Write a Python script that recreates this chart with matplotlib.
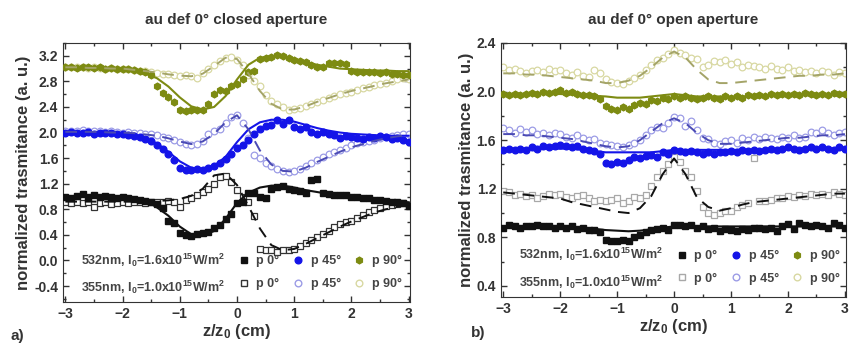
import numpy as np
import matplotlib
matplotlib.use("Agg")
import matplotlib.pyplot as plt
from matplotlib.lines import Line2D
from matplotlib.ticker import MultipleLocator, FormatStrFormatter

plt.rcParams["font.family"] = ["Liberation Sans", "DejaVu Sans"]
plt.rcParams["font.weight"] = "bold"
plt.rcParams["axes.labelweight"] = "bold"
plt.rcParams["mathtext.fontset"] = "custom"
plt.rcParams["mathtext.rm"] = "Liberation Sans:bold"
plt.rcParams["mathtext.default"] = "rm"

# scan positions (data every 0.1, fits every 0.2)
Z = np.round(np.linspace(-3, 3, 61), 1)
ZFIT = np.round(np.linspace(-3, 3, 31), 1)

# ---- panel a) closed aperture ----
A532_P0 = [1.00, 0.98, 1.01, 1.04, 1.00, 1.02, 0.99, 1.01, 1.00, 0.98, 0.99, 0.97, 0.96, 0.95, 0.93, 0.92,
           0.88, 0.82, 0.62, 0.58, 0.43, 0.40, 0.39, 0.42, 0.43, 0.45, 0.50, 0.55, 0.65, 0.72, 0.90, 0.91,
           1.05, 1.06, 1.00, 0.97, 1.12, 1.15, 1.16, 1.12, 1.10, 1.08, 1.06, 1.26, 1.28, 1.05, 1.04, 1.03,
           1.02, 1.03, 1.00, 0.99, 0.98, 0.97, 0.95, 0.94, 0.93, 0.92, 0.92, 0.90, 0.85]
A532_P0_FIT = [1.00, 1.00, 1.00, 0.99, 0.99, 0.98, 0.97, 0.94, 0.83, 0.70, 0.53, 0.41, 0.39, 0.46, 0.65, 0.90,
               1.06, 1.14, 1.17, 1.17, 1.14, 1.10, 1.07, 1.04, 1.02, 1.00, 0.98, 0.96, 0.94, 0.92, 0.91]
A355_P0 = [0.92, 0.90, 0.91, 0.90, 0.91, 0.83, 0.90, 0.91, 0.89, 0.90, 0.91, 0.90, 0.92, 0.91, 0.90, 0.92,
           0.91, 0.92, 0.93, 0.92, 0.83, 0.94, 0.97, 1.02, 1.07, 1.12, 1.20, 1.30, 1.32, 1.22, 1.10, 1.00,
           0.92, 0.70, 0.18, 0.17, 0.16, 0.14, 0.16, 0.17, 0.18, 0.22, 0.28, 0.32, 0.37, 0.42, 0.46, 0.52,
           0.57, 0.60, 0.62, 0.67, 0.71, 0.75, 0.79, 0.82, 0.85, 0.87, 0.88, 0.90, 0.86]
A355_P0_FIT = [0.92, 0.92, 0.92, 0.92, 0.92, 0.92, 0.92, 0.93, 0.93, 0.94, 0.96, 1.01, 1.12, 1.33, 1.36, 1.18,
               0.85, 0.50, 0.24, 0.16, 0.18, 0.26, 0.35, 0.44, 0.53, 0.61, 0.68, 0.75, 0.80, 0.84, 0.87]
A532_P45 = [2.00, 2.01, 1.99, 2.00, 2.01, 1.98, 2.00, 1.99, 2.00, 1.98, 1.97, 1.96, 1.95, 1.93, 1.90, 1.86,
            1.80, 1.74, 1.66, 1.57, 1.45, 1.42, 1.41, 1.43, 1.42, 1.44, 1.48, 1.52, 1.58, 1.66, 1.76, 1.80,
            1.88, 1.97, 2.05, 2.10, 2.12, 2.20, 2.14, 2.19, 2.08, 2.06, 2.09, 2.01, 1.98, 2.01, 1.97, 1.96,
            1.92, 1.95, 1.93, 1.91, 1.90, 1.93, 1.92, 1.94, 1.93, 1.90, 1.92, 1.88, 1.85]
A532_P45_FIT = [2.00, 2.00, 2.00, 2.00, 1.99, 1.98, 1.96, 1.91, 1.83, 1.70, 1.55, 1.45, 1.43, 1.48, 1.62, 1.85,
                2.05, 2.16, 2.20, 2.20, 2.17, 2.12, 2.07, 2.03, 2.00, 1.98, 1.97, 1.96, 1.95, 1.95, 1.95]
A355_P45 = [2.02, 2.03, 2.02, 2.04, 2.03, 2.02, 2.03, 2.01, 2.02, 2.01, 2.00, 2.01, 2.00, 1.99, 1.98, 1.97,
            1.96, 1.93, 1.92, 1.88, 1.85, 1.82, 1.80, 1.82, 1.87, 1.97, 2.02, 2.06, 2.15, 2.25, 2.28, 2.15,
            1.92, 1.65, 1.60, 1.52, 1.47, 1.43, 1.40, 1.38, 1.40, 1.43, 1.48, 1.53, 1.57, 1.62, 1.66, 1.70,
            1.73, 1.76, 1.80, 1.83, 1.85, 1.87, 1.89, 1.91, 1.93, 1.95, 1.96, 1.98, 1.97]
A355_P45_FIT = [2.01, 2.01, 2.01, 2.01, 2.00, 2.00, 1.99, 1.97, 1.95, 1.91, 1.86, 1.82, 1.86, 1.98, 2.16, 2.27,
                2.05, 1.72, 1.50, 1.40, 1.39, 1.45, 1.54, 1.62, 1.70, 1.77, 1.82, 1.87, 1.91, 1.94, 1.96]
A532_P90 = [3.02, 3.03, 3.01, 3.02, 3.02, 3.01, 3.02, 3.00, 3.01, 2.99, 3.00, 2.99, 2.98, 2.97, 2.95, 2.90,
            2.72, 2.62, 2.55, 2.48, 2.36, 2.34, 2.36, 2.35, 2.36, 2.45, 2.60, 2.66, 2.65, 2.72, 2.76, 2.83,
            2.95, 2.97, 3.15, 3.17, 3.18, 3.22, 3.19, 3.16, 3.14, 3.12, 3.10, 3.06, 3.03, 3.02, 3.08, 3.09,
            3.08, 3.07, 2.96, 2.95, 2.95, 2.94, 2.95, 2.93, 2.94, 2.92, 2.91, 2.90, 2.90]
A532_P90_FIT = [3.02, 3.02, 3.02, 3.01, 3.01, 3.00, 2.97, 2.92, 2.85, 2.72, 2.55, 2.41, 2.36, 2.40, 2.57, 2.83,
                3.06, 3.17, 3.19, 3.19, 3.15, 3.10, 3.06, 3.03, 3.00, 2.99, 2.98, 2.97, 2.97, 2.96, 2.96]
A355_P90 = [3.03, 3.02, 3.03, 3.02, 3.01, 3.02, 3.01, 3.00, 3.01, 3.00, 2.99, 3.00, 2.98, 2.97, 2.96, 2.95,
            2.93, 2.92, 2.91, 2.90, 2.89, 2.90, 2.88, 2.86, 2.93, 3.00, 3.06, 3.12, 3.16, 3.18, 3.14, 3.05,
            2.90, 2.80, 2.72, 2.58, 2.50, 2.44, 2.40, 2.36, 2.37, 2.38, 2.42, 2.45, 2.48, 2.51, 2.54, 2.57,
            2.60, 2.62, 2.64, 2.66, 2.69, 2.71, 2.74, 2.76, 2.78, 2.80, 2.83, 2.85, 2.84]
A355_P90_FIT = [3.02, 3.02, 3.01, 3.01, 3.00, 3.00, 2.98, 2.96, 2.94, 2.91, 2.89, 2.88, 2.92, 3.04, 3.17, 3.15,
                2.92, 2.65, 2.45, 2.36, 2.36, 2.41, 2.48, 2.54, 2.60, 2.65, 2.69, 2.73, 2.77, 2.80, 2.83]

# ---- panel b) open aperture ----
B532_P0 = [0.88, 0.90, 0.89, 0.88, 0.89, 0.89, 0.90, 0.89, 0.89, 0.88, 0.89, 0.88, 0.89, 0.87, 0.88, 0.86,
           0.86, 0.84, 0.78, 0.77, 0.77, 0.78, 0.77, 0.80, 0.82, 0.84, 0.86, 0.87, 0.88, 0.86, 0.90, 0.90,
           0.89, 0.90, 0.88, 0.89, 0.87, 0.88, 0.85, 0.87, 0.86, 0.85, 0.87, 0.86, 0.88, 0.88, 0.87, 0.88,
           0.85, 0.89, 0.91, 0.87, 0.92, 0.90, 0.89, 0.90, 0.89, 0.88, 0.92, 0.90, 0.88]
B532_P0_FIT = [0.89, 0.89, 0.89, 0.89, 0.89, 0.89, 0.88, 0.875, 0.87, 0.86, 0.855, 0.85, 0.855, 0.865, 0.88, 0.89,
               0.895, 0.89, 0.89, 0.89, 0.89, 0.89, 0.89, 0.89, 0.89, 0.89, 0.89, 0.89, 0.89, 0.89, 0.89]
B355_P0 = [1.18, 1.17, 1.15, 1.16, 1.14, 1.15, 1.12, 1.14, 1.16, 1.15, 1.16, 1.13, 1.12, 1.14, 1.15, 1.12,
           1.10, 1.11, 1.10, 1.11, 1.12, 1.08, 1.10, 1.13, 1.12, 1.15, 1.22, 1.30, 1.35, 1.40, 1.46, 1.42,
           1.35, 1.30, 1.18, 1.05, 1.00, 0.98, 1.00, 1.02, 1.02, 1.05, 1.07, 1.08, 1.45, 1.10, 1.10, 1.11,
           1.12, 1.12, 1.14, 1.13, 1.15, 1.14, 1.16, 1.15, 1.16, 1.15, 1.17, 1.16, 1.15]
B355_P0_FIT = [1.17, 1.16, 1.15, 1.14, 1.13, 1.12, 1.09, 1.07, 1.05, 1.03, 1.01, 1.00, 1.04, 1.14, 1.32, 1.45,
               1.32, 1.13, 1.05, 1.02, 1.04, 1.07, 1.09, 1.10, 1.11, 1.12, 1.13, 1.14, 1.15, 1.16, 1.16]
B532_P45 = [1.52, 1.53, 1.52, 1.53, 1.52, 1.54, 1.53, 1.55, 1.54, 1.55, 1.56, 1.55, 1.54, 1.55, 1.53, 1.52,
            1.51, 1.49, 1.41, 1.40, 1.42, 1.41, 1.44, 1.46, 1.45, 1.47, 1.48, 1.46, 1.50, 1.49, 1.52, 1.51,
            1.50, 1.51, 1.50, 1.49, 1.50, 1.49, 1.50, 1.50, 1.51, 1.50, 1.52, 1.51, 1.52, 1.51, 1.52, 1.53,
            1.52, 1.53, 1.54, 1.53, 1.52, 1.53, 1.54, 1.53, 1.54, 1.53, 1.52, 1.54, 1.53]
B532_P45_FIT = [1.53, 1.53, 1.53, 1.53, 1.53, 1.53, 1.53, 1.52, 1.51, 1.50, 1.50, 1.50, 1.50, 1.50, 1.51, 1.52,
                1.52, 1.52, 1.52, 1.52, 1.52, 1.52, 1.52, 1.52, 1.53, 1.53, 1.53, 1.53, 1.53, 1.53, 1.53]
B355_P45 = [1.70, 1.68, 1.66, 1.69, 1.67, 1.68, 1.65, 1.66, 1.64, 1.66, 1.65, 1.63, 1.62, 1.64, 1.62, 1.60,
            1.61, 1.58, 1.57, 1.56, 1.55, 1.54, 1.56, 1.58, 1.60, 1.64, 1.68, 1.71, 1.70, 1.74, 1.79, 1.78,
            1.72, 1.76, 1.68, 1.62, 1.61, 1.58, 1.57, 1.59, 1.60, 1.58, 1.62, 1.60, 1.63, 1.61, 1.63, 1.62,
            1.61, 1.63, 1.62, 1.64, 1.62, 1.63, 1.67, 1.66, 1.68, 1.66, 1.64, 1.66, 1.67]
B355_P45_FIT = [1.65, 1.65, 1.64, 1.64, 1.63, 1.62, 1.61, 1.59, 1.57, 1.55, 1.54, 1.55, 1.60, 1.67, 1.74, 1.78,
                1.74, 1.66, 1.60, 1.57, 1.57, 1.58, 1.59, 1.60, 1.61, 1.62, 1.62, 1.63, 1.64, 1.64, 1.65]
B532_P90 = [1.98, 1.97, 1.98, 1.97, 1.98, 1.99, 1.98, 2.00, 1.99, 2.00, 2.01, 1.99, 2.00, 1.98, 1.97, 1.97,
            1.96, 1.94, 1.88, 1.86, 1.85, 1.87, 1.86, 1.89, 1.91, 1.90, 1.93, 1.92, 1.95, 1.94, 1.96, 1.95,
            1.96, 1.95, 1.94, 1.95, 1.96, 1.95, 1.94, 1.96, 1.95, 1.96, 1.95, 1.97, 1.96, 1.97, 1.96, 1.98,
            1.97, 1.98, 1.97, 1.98, 1.97, 1.99, 1.98, 1.97, 1.98, 1.97, 1.99, 1.98, 1.98]
B532_P90_FIT = [1.98, 1.98, 1.98, 1.98, 1.98, 1.98, 1.975, 1.97, 1.965, 1.96, 1.95, 1.95, 1.95, 1.96, 1.97, 1.98,
                1.97, 1.96, 1.96, 1.96, 1.96, 1.96, 1.965, 1.965, 1.97, 1.97, 1.97, 1.97, 1.97, 1.97, 1.97]
B355_P90 = [2.20, 2.18, 2.19, 2.17, 2.15, 2.17, 2.18, 2.16, 2.19, 2.17, 2.18, 2.15, 2.14, 2.16, 2.13, 2.12,
            2.18, 2.15, 2.10, 2.08, 2.07, 2.06, 2.09, 2.11, 2.14, 2.18, 2.22, 2.26, 2.28, 2.31, 2.34, 2.32,
            2.30, 2.28, 2.27, 2.20, 2.22, 2.25, 2.24, 2.26, 2.23, 2.24, 2.20, 2.22, 2.21, 2.20, 2.19, 2.21,
            2.19, 2.18, 2.20, 2.17, 2.18, 2.16, 2.17, 2.15, 2.17, 2.16, 2.14, 2.16, 2.15]
B355_P90_FIT = [2.15, 2.15, 2.14, 2.14, 2.13, 2.12, 2.11, 2.10, 2.09, 2.07, 2.07, 2.09, 2.13, 2.20, 2.28, 2.33,
                2.28, 2.18, 2.10, 2.07, 2.07, 2.08, 2.09, 2.10, 2.11, 2.12, 2.13, 2.13, 2.14, 2.14, 2.15]

LABEL_532 = "532nm, I$_0$=1.6x10$^{15}$W/m$^2$"
LABEL_355 = "355nm, I$_0$=1.0x10$^{15}$W/m$^2$"
POL_LABELS = ["p 0°", "p 45°", "p 90°"]

BLACK = "#111111"
BLUE = "#1414e8"
OLIVE = "#7d8b12"
TEXT = "#333333"


def draw_panel(ax, s532, f532, s355, f355, sq355_color):
    # 532 nm: filled markers, solid fits
    face = [BLACK, BLUE, OLIVE]
    marks = ["s", "o", "h"]
    for data, fit, col, mk in zip(s532, f532, face, marks):
        ax.plot(Z, data, ls="none", marker=mk, ms=4.8, mfc=col, mec=col, zorder=3)
        ax.plot(ZFIT, fit, color=col, lw=1.5, zorder=4)
    # 355 nm: open markers, dashed fits
    edge = [sq355_color, "#9c9ce6", "#d8d8a2"]
    dash = [BLACK, "#4a4ab4", "#a4a468"]
    marks = ["s", "o", "o"]
    for data, fit, ec, dc, mk in zip(s355, f355, edge, dash, marks):
        ax.plot(Z, data, ls="none", marker=mk, ms=4.8, mfc="white", mec=ec, mew=0.9, zorder=2)
        ax.plot(ZFIT, fit, color=dc, lw=1.4, dashes=(6, 4), zorder=4)

    handles = [Line2D([], [], ls="none")]
    handles += [Line2D([], [], ls="none", marker=m, ms=4.8, mfc=c, mec=c)
                for m, c in zip(["s", "o", "h"], face)]
    handles += [Line2D([], [], ls="none")]
    handles += [Line2D([], [], ls="none", marker=m, ms=4.8, mfc="white", mec=c)
                for m, c in zip(marks, edge)]
    labels = [LABEL_532] + POL_LABELS + [LABEL_355] + POL_LABELS
    # column-major order for ncol=4
    order = [0, 4, 1, 5, 2, 6, 3, 7]
    leg = ax.legend([handles[i] for i in order], [labels[i] for i in order], ncol=4,
                    loc="lower left", bbox_to_anchor=(-0.035, -0.022), frameon=False,
                    fontsize=9, handlelength=1.0, handletextpad=0.5, columnspacing=1.0,
                    labelspacing=0.85)
    for t in leg.get_texts():
        t.set_color("#444444")

    ax.set_xlim(-3.04, 3.02)
    ax.xaxis.set_major_locator(MultipleLocator(1))
    ax.xaxis.set_minor_locator(MultipleLocator(0.5))
    ax.yaxis.set_major_locator(MultipleLocator(0.4))
    ax.yaxis.set_minor_locator(MultipleLocator(0.2))
    ax.tick_params(which="both", direction="in", top=True, right=True, labelsize=10,
                   colors=TEXT, width=1)
    ax.tick_params(which="major", length=4)
    ax.tick_params(which="minor", length=2)
    ax.yaxis.set_major_formatter(FormatStrFormatter("%.1f"))
    for lab in ax.get_xticklabels() + ax.get_yticklabels():
        lab.set_fontweight("bold")
    for spine in ax.spines.values():
        spine.set_edgecolor(TEXT)
    ax.set_xlabel("z/z$_0$ (cm)", fontsize=12, fontweight="bold", color=TEXT, labelpad=1)
    ax.set_ylabel("normalized trasmitance (a. u.)", fontsize=12, fontweight="bold",
                  color=TEXT, labelpad=2)


fig = plt.figure(figsize=(8.52, 3.44), dpi=100)
ax1 = fig.add_axes([0.074, 0.122, 0.407, 0.753])
ax2 = fig.add_axes([0.588, 0.137, 0.405, 0.738])

draw_panel(ax1, [A532_P0, A532_P45, A532_P90], [A532_P0_FIT, A532_P45_FIT, A532_P90_FIT],
           [A355_P0, A355_P45, A355_P90], [A355_P0_FIT, A355_P45_FIT, A355_P90_FIT], "#333333")
ax1.set_ylim(-0.65, 3.4)
ax1.set_title("au def 0° closed aperture", fontsize=11, fontweight="bold", color=TEXT, pad=14)

draw_panel(ax2, [B532_P0, B532_P45, B532_P90], [B532_P0_FIT, B532_P45_FIT, B532_P90_FIT],
           [B355_P0, B355_P45, B355_P90], [B355_P0_FIT, B355_P45_FIT, B355_P90_FIT], "#a8a8a8")
ax2.set_ylim(0.31, 2.4)
ax2.set_title("au def 0° open aperture", fontsize=11, fontweight="bold", color=TEXT, pad=14)

fig.text(0.012, 0.012, "a)", fontsize=11, fontweight="bold", color=TEXT)
fig.text(0.553, 0.02, "b)", fontsize=11, fontweight="bold", color=TEXT)

fig.savefig("out.png", dpi=100)
